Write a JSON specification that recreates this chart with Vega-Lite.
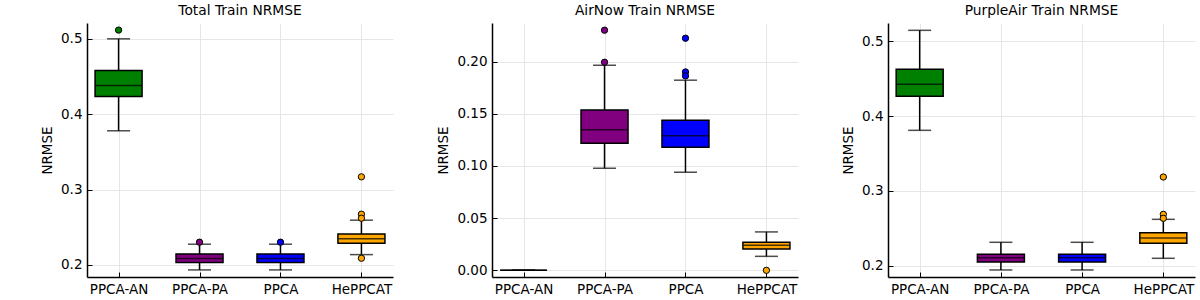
{
  "$schema": "https://vega.github.io/schema/vega-lite/v6.json",
  "padding": {"left": 40, "top": 4, "right": 2, "bottom": 2},
  "background": "white",
  "datasets": {
    "boxes": [
      {"panel": "Total", "method": "PPCA-AN", "lower": 0.378, "q1": 0.4234, "median": 0.438, "q3": 0.458, "upper": 0.5},
      {"panel": "Total", "method": "PPCA-PA", "lower": 0.1934, "q1": 0.2031, "median": 0.2084, "q3": 0.2146, "upper": 0.2275},
      {"panel": "Total", "method": "PPCA", "lower": 0.1934, "q1": 0.2031, "median": 0.2084, "q3": 0.2146, "upper": 0.2275},
      {"panel": "Total", "method": "HePPCAT", "lower": 0.2137, "q1": 0.2288, "median": 0.2349, "q3": 0.2412, "upper": 0.2594},
      {"panel": "AirNow", "method": "PPCA-AN", "lower": 0, "q1": 0, "median": 0, "q3": 0, "upper": 0},
      {"panel": "AirNow", "method": "PPCA-PA", "lower": 0.0978, "q1": 0.1218, "median": 0.1348, "q3": 0.1537, "upper": 0.1965},
      {"panel": "AirNow", "method": "PPCA", "lower": 0.094, "q1": 0.1179, "median": 0.129, "q3": 0.1438, "upper": 0.1822},
      {"panel": "AirNow", "method": "HePPCAT", "lower": 0.0134, "q1": 0.0204, "median": 0.024, "q3": 0.0268, "upper": 0.0368},
      {"panel": "PurpleAir", "method": "PPCA-AN", "lower": 0.381, "q1": 0.4265, "median": 0.4425, "q3": 0.4626, "upper": 0.5147},
      {"panel": "PurpleAir", "method": "PPCA-PA", "lower": 0.1943, "q1": 0.205, "median": 0.2105, "q3": 0.2152, "upper": 0.2313},
      {"panel": "PurpleAir", "method": "PPCA", "lower": 0.1943, "q1": 0.205, "median": 0.2105, "q3": 0.2152, "upper": 0.2313},
      {"panel": "PurpleAir", "method": "HePPCAT", "lower": 0.2099, "q1": 0.2299, "median": 0.237, "q3": 0.2441, "upper": 0.262}
    ],
    "outliers": [
      {"panel": "Total", "method": "PPCA-AN", "value": 0.5116},
      {"panel": "Total", "method": "PPCA-PA", "value": 0.2302},
      {"panel": "Total", "method": "PPCA", "value": 0.2302},
      {"panel": "Total", "method": "HePPCAT", "value": 0.3169},
      {"panel": "Total", "method": "HePPCAT", "value": 0.2673},
      {"panel": "Total", "method": "HePPCAT", "value": 0.262},
      {"panel": "Total", "method": "HePPCAT", "value": 0.2089},
      {"panel": "AirNow", "method": "PPCA-PA", "value": 0.2301},
      {"panel": "AirNow", "method": "PPCA-PA", "value": 0.1994},
      {"panel": "AirNow", "method": "PPCA", "value": 0.2224},
      {"panel": "AirNow", "method": "PPCA", "value": 0.1901},
      {"panel": "AirNow", "method": "PPCA", "value": 0.1863},
      {"panel": "AirNow", "method": "HePPCAT", "value": 0.0},
      {"panel": "PurpleAir", "method": "HePPCAT", "value": 0.3186},
      {"panel": "PurpleAir", "method": "HePPCAT", "value": 0.2687},
      {"panel": "PurpleAir", "method": "HePPCAT", "value": 0.2634}
    ]
  },
  "hconcat": [
    {
      "width": 306, "height": 254,
      "title": "Total Train NRMSE",
      "encoding": {
        "x": {"field": "method", "type": "nominal", "sort": ["PPCA-AN", "PPCA-PA", "PPCA", "HePPCAT"], "scale": {"type": "point", "padding": 0.39}, "title": null}
      },
      "layer": [
        {"data": {"name": "boxes"}, "transform": [{"filter": "datum.panel === 'Total'"}],
         "mark": {"type": "rule", "stroke": "black", "strokeWidth": 1.5},
         "encoding": {"y": {"field": "lower", "type": "quantitative", "scale": {"domain": [0.184, 0.521], "nice": false, "zero": false}, "axis": {"values": [0.2, 0.3, 0.4, 0.5], "format": ".1f"}, "title": "NRMSE"}, "y2": {"field": "upper"}}},
        {"data": {"name": "boxes"}, "transform": [{"filter": "datum.panel === 'Total'"}],
         "mark": {"type": "tick", "color": "black", "size": 23, "thickness": 1.5},
         "encoding": {"y": {"field": "lower", "type": "quantitative"}}},
        {"data": {"name": "boxes"}, "transform": [{"filter": "datum.panel === 'Total'"}],
         "mark": {"type": "tick", "color": "black", "size": 23, "thickness": 1.5},
         "encoding": {"y": {"field": "upper", "type": "quantitative"}}},
        {"data": {"name": "boxes"}, "transform": [{"filter": "datum.panel === 'Total'"}],
         "mark": {"type": "bar", "size": 47, "stroke": "black", "strokeWidth": 1.5, "opacity": 1},
         "encoding": {"y": {"field": "q1", "type": "quantitative"}, "y2": {"field": "q3"},
           "fill": {"field": "method", "type": "nominal", "scale": {"domain": ["PPCA-AN", "PPCA-PA", "PPCA", "HePPCAT"], "range": ["#008000", "#800080", "#0000ff", "#ffa500"]}, "legend": null}}},
        {"data": {"name": "boxes"}, "transform": [{"filter": "datum.panel === 'Total'"}],
         "mark": {"type": "tick", "color": "black", "size": 46, "thickness": 1.5},
         "encoding": {"y": {"field": "median", "type": "quantitative"}}},
        {"data": {"name": "outliers"}, "transform": [{"filter": "datum.panel === 'Total'"}],
         "mark": {"type": "circle", "size": 40, "stroke": "black", "strokeWidth": 1, "opacity": 1},
         "encoding": {"y": {"field": "value", "type": "quantitative"},
           "fill": {"field": "method", "type": "nominal", "legend": null}}}
      ]
    },
    {
      "width": 306, "height": 254,
      "title": "AirNow Train NRMSE",
      "encoding": {
        "x": {"field": "method", "type": "nominal", "sort": ["PPCA-AN", "PPCA-PA", "PPCA", "HePPCAT"], "scale": {"type": "point", "padding": 0.39}, "title": null}
      },
      "layer": [
        {"data": {"name": "boxes"}, "transform": [{"filter": "datum.panel === 'AirNow'"}],
         "mark": {"type": "rule", "stroke": "black", "strokeWidth": 1.5},
         "encoding": {"y": {"field": "lower", "type": "quantitative", "scale": {"domain": [-0.0064, 0.237], "nice": false, "zero": false}, "axis": {"values": [0, 0.05, 0.1, 0.15, 0.2], "format": ".2f", "titlePadding": 6}, "title": "NRMSE"}, "y2": {"field": "upper"}}},
        {"data": {"name": "boxes"}, "transform": [{"filter": "datum.panel === 'AirNow'"}],
         "mark": {"type": "tick", "color": "black", "size": 23, "thickness": 1.5},
         "encoding": {"y": {"field": "lower", "type": "quantitative"}}},
        {"data": {"name": "boxes"}, "transform": [{"filter": "datum.panel === 'AirNow'"}],
         "mark": {"type": "tick", "color": "black", "size": 23, "thickness": 1.5},
         "encoding": {"y": {"field": "upper", "type": "quantitative"}}},
        {"data": {"name": "boxes"}, "transform": [{"filter": "datum.panel === 'AirNow'"}],
         "mark": {"type": "bar", "size": 47, "stroke": "black", "strokeWidth": 1.5, "opacity": 1},
         "encoding": {"y": {"field": "q1", "type": "quantitative"}, "y2": {"field": "q3"},
           "fill": {"field": "method", "type": "nominal", "scale": {"domain": ["PPCA-AN", "PPCA-PA", "PPCA", "HePPCAT"], "range": ["#008000", "#800080", "#0000ff", "#ffa500"]}, "legend": null}}},
        {"data": {"name": "boxes"}, "transform": [{"filter": "datum.panel === 'AirNow'"}],
         "mark": {"type": "tick", "color": "black", "size": 46, "thickness": 1.5},
         "encoding": {"y": {"field": "median", "type": "quantitative"}}},
        {"data": {"name": "outliers"}, "transform": [{"filter": "datum.panel === 'AirNow'"}],
         "mark": {"type": "circle", "size": 40, "stroke": "black", "strokeWidth": 1, "opacity": 1},
         "encoding": {"y": {"field": "value", "type": "quantitative"},
           "fill": {"field": "method", "type": "nominal", "legend": null}}}
      ]
    },
    {
      "width": 307, "height": 254,
      "title": "PurpleAir Train NRMSE",
      "encoding": {
        "x": {"field": "method", "type": "nominal", "sort": ["PPCA-AN", "PPCA-PA", "PPCA", "HePPCAT"], "scale": {"type": "point", "padding": 0.39}, "title": null}
      },
      "layer": [
        {"data": {"name": "boxes"}, "transform": [{"filter": "datum.panel === 'PurpleAir'"}],
         "mark": {"type": "rule", "stroke": "black", "strokeWidth": 1.5},
         "encoding": {"y": {"field": "lower", "type": "quantitative", "scale": {"domain": [0.1849, 0.5245], "nice": false, "zero": false}, "axis": {"values": [0.2, 0.3, 0.4, 0.5], "format": ".1f"}, "title": "NRMSE"}, "y2": {"field": "upper"}}},
        {"data": {"name": "boxes"}, "transform": [{"filter": "datum.panel === 'PurpleAir'"}],
         "mark": {"type": "tick", "color": "black", "size": 23, "thickness": 1.5},
         "encoding": {"y": {"field": "lower", "type": "quantitative"}}},
        {"data": {"name": "boxes"}, "transform": [{"filter": "datum.panel === 'PurpleAir'"}],
         "mark": {"type": "tick", "color": "black", "size": 23, "thickness": 1.5},
         "encoding": {"y": {"field": "upper", "type": "quantitative"}}},
        {"data": {"name": "boxes"}, "transform": [{"filter": "datum.panel === 'PurpleAir'"}],
         "mark": {"type": "bar", "size": 47, "stroke": "black", "strokeWidth": 1.5, "opacity": 1},
         "encoding": {"y": {"field": "q1", "type": "quantitative"}, "y2": {"field": "q3"},
           "fill": {"field": "method", "type": "nominal", "scale": {"domain": ["PPCA-AN", "PPCA-PA", "PPCA", "HePPCAT"], "range": ["#008000", "#800080", "#0000ff", "#ffa500"]}, "legend": null}}},
        {"data": {"name": "boxes"}, "transform": [{"filter": "datum.panel === 'PurpleAir'"}],
         "mark": {"type": "tick", "color": "black", "size": 46, "thickness": 1.5},
         "encoding": {"y": {"field": "median", "type": "quantitative"}}},
        {"data": {"name": "outliers"}, "transform": [{"filter": "datum.panel === 'PurpleAir'"}],
         "mark": {"type": "circle", "size": 40, "stroke": "black", "strokeWidth": 1, "opacity": 1},
         "encoding": {"y": {"field": "value", "type": "quantitative"},
           "fill": {"field": "method", "type": "nominal", "legend": null}}}
      ]
    }
  ],
  "resolve": {"scale": {"y": "independent", "x": "independent"}},
  "config": {
    "view": {"stroke": null},
    "concat": {"spacing": 43},
    "axis": {
      "grid": true, "gridColor": "#e6e6e6", "gridWidth": 1,
      "domainColor": "black", "domainWidth": 1.5,
      "tickColor": "black", "tickWidth": 1, "tickSize": -5,
      "labelPadding": 10, "titlePadding": 6,
      "labelFont": "DejaVu Sans", "labelFontSize": 13.5, "labelColor": "#000000",
      "titleFont": "DejaVu Sans", "titleFontSize": 13.5, "titleFontWeight": "normal", "titleColor": "#000000"
    },
    "axisX": {"labelAngle": 0},
    "title": {"font": "DejaVu Sans", "fontSize": 13.8, "fontWeight": "normal", "color": "#000000", "offset": 5}
  }
}
